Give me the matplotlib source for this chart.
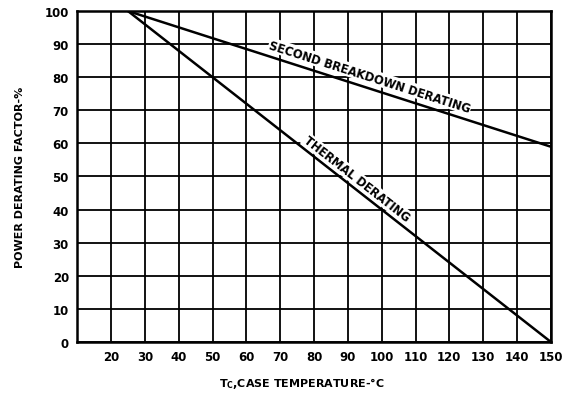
import matplotlib
matplotlib.use("Agg")
import matplotlib.pyplot as plt
import numpy as np

# Data
thermal_x = [25, 150]
thermal_y = [100, 0]
second_x = [25, 150]
second_y = [100, 59]
x_ticks = [20, 30, 40, 50, 60, 70, 80, 90, 100, 110, 120, 130, 140, 150]
y_ticks = [0, 10, 20, 30, 40, 50, 60, 70, 80, 90, 100]

plt.rcParams['font.family'] = ['DejaVu Sans']
plt.rcParams['font.weight'] = 'bold'

fig = plt.figure(figsize=(5.72, 4.02), dpi=100)
ax = fig.add_axes([0.135, 0.147, 0.828, 0.823])
ax.set_xlim(10, 150)
ax.set_ylim(0, 100)

ax.set_xticks(x_ticks)
ax.set_yticks(y_ticks)
ax.set_xticklabels([str(v) for v in x_ticks], fontsize=8.5, fontweight='bold')
ax.set_yticklabels([str(v) for v in y_ticks], fontsize=8.5, fontweight='bold')
ax.tick_params(length=0, pad=6)
ax.grid(True, color='black', linewidth=1.3)
for s in ax.spines.values():
    s.set_linewidth(1.8)
    s.set_color('black')

ax.plot(thermal_x, thermal_y, color='black', linewidth=1.8, solid_capstyle='butt')
ax.plot(second_x, second_y, color='black', linewidth=1.8, solid_capstyle='butt')

ax.text(96.5, 80.3, "SECOND BREAKDOWN DERATING", rotation=-17.7, ha='center', va='center',
        fontsize=8.3, fontweight='bold', rotation_mode='anchor',
        bbox=dict(facecolor='white', edgecolor='none', pad=0.5))
ax.text(92.5, 49.5, "THERMAL DERATING", rotation=-38, ha='center', va='center',
        fontsize=8.3, fontweight='bold', rotation_mode='anchor',
        bbox=dict(facecolor='white', edgecolor='none', pad=0.5))

ax.set_ylabel("POWER DERATING FACTOR-%", fontsize=8, fontweight='bold', labelpad=14)
ax.set_xlabel(r"T$_{\mathbf{C}}$,CASE TEMPERATURE-°C", fontsize=8, fontweight='bold', labelpad=12)
ax.xaxis.set_label_coords(0.475, -0.1)

fig.savefig("out.png", dpi=100, facecolor='white')
